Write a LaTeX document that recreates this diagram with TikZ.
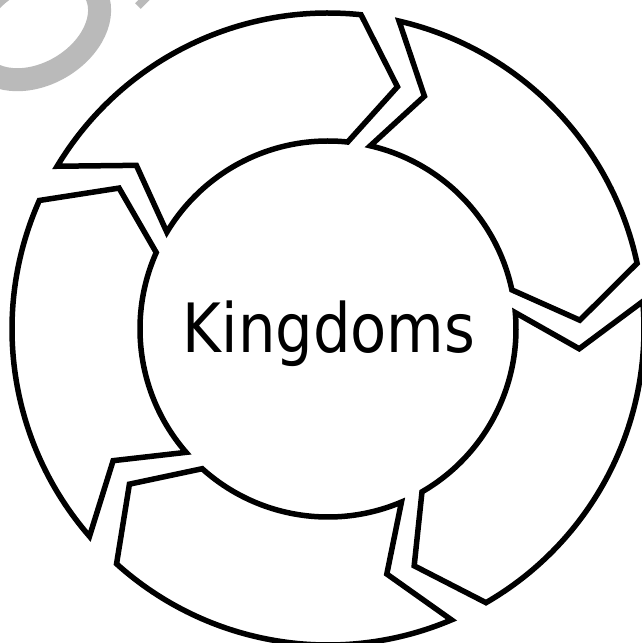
\documentclass[tikz,border=0pt]{standalone}
\usepackage{fontspec}
\newfontfamily\kgfont[FakeStretch=0.87]{DejaVu Sans}
\definecolor{wmgray}{HTML}{BABABA}
\definecolor{inkblack}{HTML}{000000}

\begin{document}
\begin{tikzpicture}[x=1pt, y=1pt,
  ringarrow/.style={draw=inkblack, fill=white, line width=5.5pt, line join=miter}]

% Page: 642 x 643, ring centre at the origin
\useasboundingbox (-328,-314) rectangle (314,329);
\fill[white] (-328,-314) rectangle (314,329);

% Watermark fragment, top left
\draw[wmgray, line width=23pt] (-292,303) ellipse[x radius=68, y radius=48, rotate=30];
\draw[wmgray, line width=8pt] (-190,323) -- (-180,333);

% Ring of five arrows (clockwise), outer r=316, inner r=188, tips at r=252
% each arrow: tail at a, notch at a-9.5, head at a-65, tip at a-75

% top
\draw[ringarrow] (149:316) arc[start angle=149, end angle=84, radius=316]
  -- (74:252) -- (84:188) arc[start angle=84, end angle=149, radius=188]
  -- (139.5:252) -- cycle;

% upper right
\draw[ringarrow] (77:316) arc[start angle=77, end angle=12, radius=316]
  -- (2:252) -- (12:188) arc[start angle=12, end angle=77, radius=188]
  -- (67.5:252) -- cycle;

% lower right
\draw[ringarrow] (5:316) arc[start angle=5, end angle=-60, radius=316]
  -- (-70:252) -- (-60:188) arc[start angle=-60, end angle=5, radius=188]
  -- (-4.5:252) -- cycle;

% bottom
\draw[ringarrow] (-67:316) arc[start angle=-67, end angle=-132, radius=316]
  -- (-142:252) -- (-132:188) arc[start angle=-132, end angle=-67, radius=188]
  -- (-76.5:252) -- cycle;

% left
\draw[ringarrow] (-139:316) arc[start angle=-139, end angle=-204, radius=316]
  -- (-214:252) -- (-204:188) arc[start angle=-204, end angle=-139, radius=188]
  -- (-148.5:252) -- cycle;

% Centre label
\node[font=\kgfont\fontsize{68}{80}\selectfont, anchor=base, inner sep=0pt]
  (kingdoms) at (1,-23) {Kingdoms};

\end{tikzpicture}
\end{document}
